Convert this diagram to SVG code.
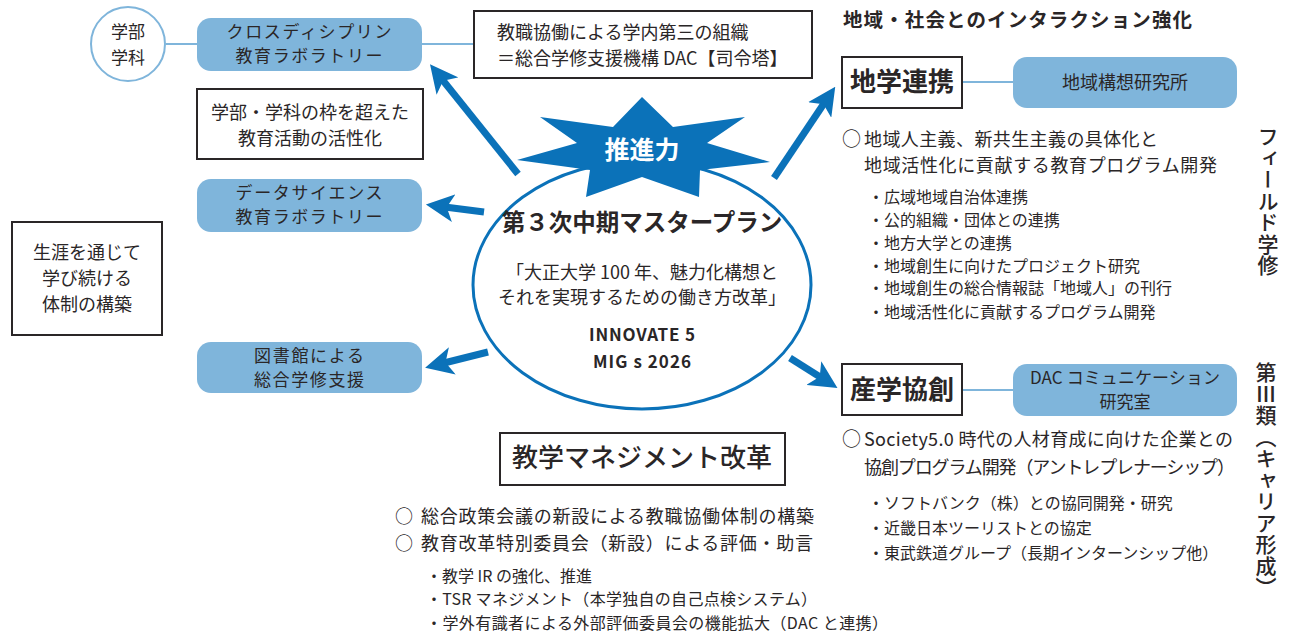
<svg xmlns="http://www.w3.org/2000/svg" width="1290" height="636" viewBox="0 0 1290 636">
<defs>
<style>
text{font-family:"Noto Sans CJK JP","Noto Sans",sans-serif;fill:#2a2627}
.c{text-anchor:middle}
.t18{font-size:18px}
.t17{font-size:17px}
.t16{font-size:16px}
.b{font-weight:bold}
.lab{fill:#7fb5db;stroke:none}
.box{fill:#fff;stroke:#2a2627;stroke-width:2}
.ln{stroke:#7fb5db;stroke-width:2;fill:none}
.arr{stroke:#0b72b9;stroke-width:7;fill:none;marker-end:url(#ah)}
.vt{writing-mode:vertical-rl;font-size:21px;font-weight:500}
.o{font-size:19px}
</style>
<marker id="ah" viewBox="0 0 10 10" refX="6" refY="5" markerWidth="4" markerHeight="4" orient="auto" markerUnits="strokeWidth">
<path d="M0,0 L10,5 L0,10 L2.5,5 Z" fill="#0b72b9"/>
</marker>
</defs>
<rect width="1290" height="636" fill="#fff"/>

<g id="connectors">
<line class="ln" x1="166" y1="44" x2="198" y2="44"/>
<line class="ln" x1="422" y1="44" x2="475" y2="44"/>
<line class="ln" x1="962" y1="82" x2="1013" y2="82"/>
<line class="ln" x1="962" y1="390" x2="1013" y2="390"/>
<line class="arr" x1="518" y1="174" x2="437" y2="73"/>
<line class="arr" x1="484" y1="212" x2="437" y2="206"/>
<line class="arr" x1="488" y1="352" x2="436" y2="365"/>
<line class="arr" x1="774" y1="178" x2="829" y2="96"/>
<line class="arr" x1="790" y1="358" x2="828" y2="382"/>
</g>

<g id="plan">
<ellipse cx="642" cy="285" rx="169" ry="124" fill="#fff" stroke="#0b72b9" stroke-width="3"/>
<polygon points="642,97 673,127 745,117 707,143 770,162 700,170 699,197 642,177 586,197 590,170 517,160 577,143 540,117 613,127" fill="#0b72b9"/>
<text x="642" y="159" class="c b" style="font-size:25px;fill:#fff">推進力</text>
<text x="642" y="231" class="c b" style="font-size:23.5px">第３次中期マスタープラン</text>
<text x="642" y="279" class="c t18">「大正大学 100 年、魅力化構想と</text>
<text x="642" y="304" class="c t18">それを実現するための働き方改革」</text>
<text x="642" y="341" class="c b" style="font-size:17px" textLength="106">INNOVATE 5</text>
<text x="642" y="368" class="c b" style="font-size:17px" textLength="98">MIG s 2026</text>
</g>

<g id="gakubu">
<circle cx="128" cy="44" r="37" fill="#fff" stroke="#7fb5db" stroke-width="2"/>
<text x="128" y="38" class="c t17">学部</text>
<text x="128" y="64" class="c t17">学科</text>
</g>

<g id="cross-lab">
<rect class="lab" x="197" y="18" width="225" height="53" rx="14"/>
<text x="309" y="38" class="c t17" textLength="165">クロスディシプリン</text>
<text x="309" y="62" class="c t17" textLength="147">教育ラボラトリー</text>
</g>

<g id="waku">
<rect class="box" x="197" y="89" width="226" height="70"/>
<text x="310" y="119" class="c t18">学部・学科の枠を超えた</text>
<text x="310" y="145" class="c t18">教育活動の活性化</text>
</g>

<g id="dac">
<rect class="box" x="474" y="11" width="338" height="67"/>
<text x="497" y="39" class="t18">教職協働による学内第三の組織</text>
<text x="497" y="65" class="t18">＝総合学修支援機構 DAC【司令塔】</text>
</g>

<g id="ds-lab">
<rect class="lab" x="197" y="179" width="225" height="53" rx="14"/>
<text x="309" y="199" class="c t17" textLength="147">データサイエンス</text>
<text x="309" y="223" class="c t17" textLength="147">教育ラボラトリー</text>
</g>

<g id="library">
<rect class="lab" x="197" y="342" width="225" height="51" rx="14"/>
<text x="309" y="362" class="c t17" textLength="110">図書館による</text>
<text x="309" y="386" class="c t17" textLength="110">総合学修支援</text>
</g>

<g id="shogai">
<rect class="box" x="12" y="222" width="150" height="113"/>
<text x="87" y="259" class="c t18">生涯を通じて</text>
<text x="87" y="285" class="c t18">学び続ける</text>
<text x="87" y="311" class="c t18">体制の構築</text>
</g>

<text x="843" y="27" class="b" style="font-size:19.5px" textLength="349">地域・社会とのインタラクション強化</text>

<g id="chigaku">
<rect class="box" x="842" y="57" width="120" height="51"/>
<text x="902" y="91" class="c b" style="font-size:26px">地学連携</text>
</g>

<g id="chiiki-ken">
<rect class="lab" x="1013" y="57" width="224" height="51" rx="14"/>
<text x="1125" y="89" class="c t18">地域構想研究所</text>
</g>

<g id="chigaku-text">
<text x="842" y="146" class="o">○</text>
<text x="864" y="146" class="t18" textLength="294">地域人主義、新共生主義の具体化と</text>
<text x="864" y="172" class="t18" textLength="353">地域活性化に貢献する教育プログラム開発</text>
<text x="868" y="203" class="t16">・広域地域自治体連携</text>
<text x="868" y="226" class="t16">・公的組織・団体との連携</text>
<text x="868" y="249" class="t16">・地方大学との連携</text>
<text x="868" y="272" class="t16">・地域創生に向けたプロジェクト研究</text>
<text x="868" y="294" class="t16">・地域創生の総合情報誌「地域人」の刊行</text>
<text x="868" y="318" class="t16">・地域活性化に貢献するプログラム開発</text>
</g>

<text x="1268" y="126" class="vt" style="letter-spacing:0.5px">フィールド学修</text>

<g id="sangaku">
<rect class="box" x="842" y="364" width="120" height="51"/>
<text x="902" y="399" class="c b" style="font-size:26px">産学協創</text>
</g>

<g id="dac-comm">
<rect class="lab" x="1013" y="364" width="224" height="52" rx="14"/>
<text x="1125" y="384" class="c t17" textLength="190">DAC コミュニケーション</text>
<text x="1125" y="408" class="c t17">研究室</text>
</g>

<g id="sangaku-text">
<text x="842" y="446" class="o">○</text>
<text x="864" y="446" class="t18" textLength="369">Society5.0 時代の人材育成に向けた企業との</text>
<text x="864" y="474" class="t18" textLength="371">協創プログラム開発（アントレプレナーシップ）</text>
<text x="868" y="509" class="t16">・ソフトバンク（株）との協同開発・研究</text>
<text x="868" y="534" class="t16">・近畿日本ツーリストとの協定</text>
<text x="868" y="559" class="t16">・東武鉄道グループ（長期インターンシップ他）</text>
</g>

<text x="1266" y="362" class="vt" style="letter-spacing:0.5px">第Ⅲ類（キャリア形成）</text>

<g id="kyogaku">
<rect class="box" x="500" y="433" width="285" height="52"/>
<text x="642" y="467" class="c" style="font-size:26px;font-weight:500">教学マネジメント改革</text>
</g>

<g id="kyogaku-text">
<text x="395" y="523" class="t18">○</text>
<text x="421" y="523" class="t18" textLength="393">総合政策会議の新設による教職協働体制の構築</text>
<text x="395" y="550" class="t18">○</text>
<text x="421" y="550" class="t18" textLength="392">教育改革特別委員会（新設）による評価・助言</text>
<text x="426" y="582" class="t16">・教学 IR の強化、推進</text>
<text x="426" y="605" class="t16" textLength="391">・TSR マネジメント（本学独自の自己点検システム）</text>
<text x="426" y="629" class="t16" textLength="462">・学外有識者による外部評価委員会の機能拡大（DAC と連携）</text>
</g>
</svg>
